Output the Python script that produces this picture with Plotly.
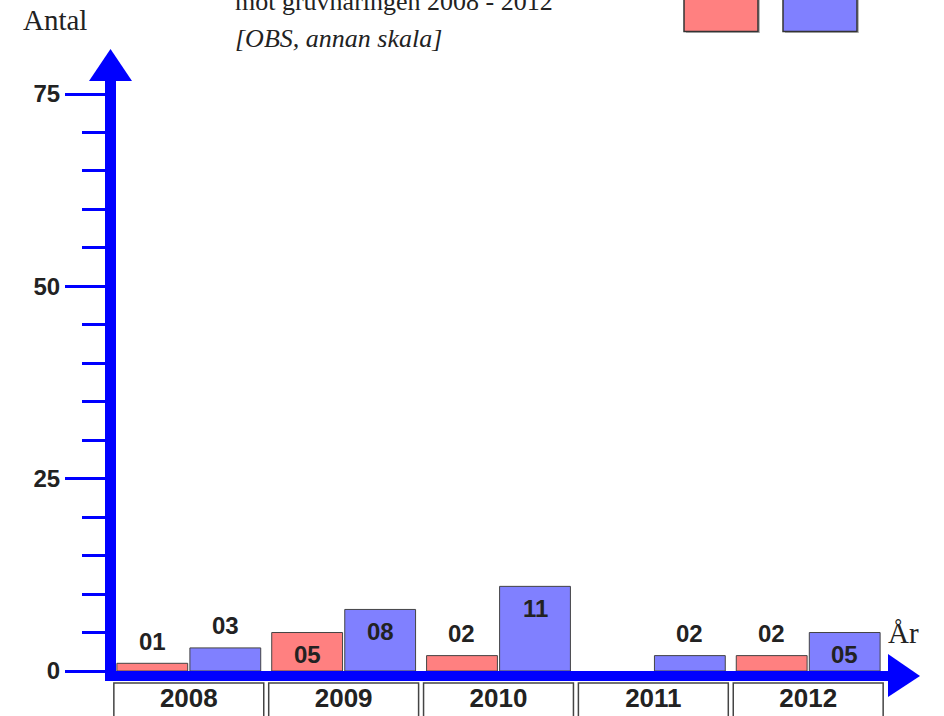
import plotly.graph_objects as go

# ---- data ----
years = ["2008", "2009", "2010", "2011", "2012"]
red_values = [1, 5, 2, 0, 2]
blue_values = [3, 8, 11, 2, 5]
red_label_pos = ["outside", "inside", "outside", None, "outside"]
blue_label_pos = ["outside", "inside", "inside", "outside", "inside"]
y_major_ticks = [0, 25, 50, 75]
y_minor_ticks = [v for v in range(0, 76, 5) if v % 25]

W, H = 944, 716
RED = "#FF8080"
BLUE = "#8080FF"
AXIS_BLUE = "#0000FF"
TXT = "#222222"
SANS = "Arial, Liberation Sans, sans-serif"
SERIF = "Times New Roman, Liberation Serif, serif"

BARGAP = 0.057


def px(x):
    return x / W


def py(y):
    return 1 - y / H


def outline_widths(vals):
    return [1 if v else 0 for v in vals]


fig = go.Figure()
fig.add_trace(go.Bar(x=years, y=red_values, name="röd",
                     marker=dict(color=RED, line=dict(color="#444444", width=outline_widths(red_values)))))
fig.add_trace(go.Bar(x=years, y=blue_values, name="blå",
                     marker=dict(color=BLUE, line=dict(color="#444444", width=outline_widths(blue_values)))))

shapes = []
# thick y axis line + arrow
shapes.append(dict(type="rect", xref="paper", yref="paper", x0=px(105), x1=px(116), y0=py(681), y1=py(80),
                   fillcolor=AXIS_BLUE, line=dict(width=0), layer="above"))
shapes.append(dict(type="path", xref="paper", yref="paper",
                   path=f"M {px(89)} {py(81)} L {px(110.5)} {py(49)} L {px(132)} {py(81)} Z",
                   fillcolor=AXIS_BLUE, line=dict(width=0), layer="above"))
# thick x axis line + arrow
shapes.append(dict(type="rect", xref="paper", yref="paper", x0=px(105), x1=px(889), y0=py(681), y1=py(671),
                   fillcolor=AXIS_BLUE, line=dict(width=0), layer="above"))
shapes.append(dict(type="path", xref="paper", yref="paper",
                   path=f"M {px(888)} {py(654)} L {px(920)} {py(676)} L {px(888)} {py(697)} Z",
                   fillcolor=AXIS_BLUE, line=dict(width=0), layer="above"))
# year boxes
for i, _ in enumerate(years):
    shapes.append(dict(type="rect", xref="x", yref="paper", x0=i - 0.484, x1=i + 0.484, y0=py(683), y1=py(730),
                       fillcolor="rgba(0,0,0,0)", line=dict(color="#444444", width=1.5)))
# legend swatches (cut at top)
for x0, col in [(684, RED), (783, BLUE)]:
    shapes.append(dict(type="rect", xref="paper", yref="paper", x0=px(x0 + 2), x1=px(x0 + 76), y0=py(33), y1=py(-5),
                       fillcolor="#BBBBBB", line=dict(width=0)))
    shapes.append(dict(type="rect", xref="paper", yref="paper", x0=px(x0), x1=px(x0 + 74), y0=py(31.5), y1=py(-5),
                       fillcolor=col, line=dict(color="#333333", width=1.5)))

annotations = []
half = (1 - BARGAP) / 4
for vals, pos, off in [(red_values, red_label_pos, -half), (blue_values, blue_label_pos, half)]:
    for i, (v, p) in enumerate(zip(vals, pos)):
        if p is None:
            continue
        annotations.append(dict(x=i + off, y=v, xref="x", yref="y", text=f"{v:02d}", showarrow=False,
                                yanchor="middle", yshift=22 if p == "outside" else -22,
                                font=dict(family=SANS, size=24, color=TXT, weight="bold")))

annotations += [
    dict(x=px(21), y=py(19.5), xref="paper", yref="paper", text="Antal", showarrow=False, xanchor="left",
         yanchor="middle", font=dict(family=SERIF, size=29, color=TXT)),
    dict(x=px(233), y=py(1.5), xref="paper", yref="paper", text="mot gruvnäringen 2008 - 2012", showarrow=False,
         xanchor="left", yanchor="middle", font=dict(family=SERIF, size=26, color=TXT)),
    dict(x=px(233), y=py(38.5), xref="paper", yref="paper", text="<i>[OBS, annan skala]</i>", showarrow=False,
         xanchor="left", yanchor="middle", font=dict(family=SERIF, size=26, color=TXT)),
    dict(x=px(886), y=py(633), xref="paper", yref="paper", text="År", showarrow=False,
         xanchor="left", yanchor="middle", font=dict(family=SERIF, size=29, color=TXT)),
]

y_per_px = 75 / (671 - 94)
fig.update_layout(
    width=W, height=H,
    margin=dict(l=0, r=0, t=0, b=0),
    paper_bgcolor="white", plot_bgcolor="white",
    barmode="group", bargap=BARGAP, bargroupgap=0.03,
    showlegend=False,
    shapes=shapes,
    annotations=annotations,
    xaxis=dict(type="category", range=[-188.8 / 154.85, (W - 188.8) / 154.85], domain=[0, 1],
               showgrid=False, zeroline=False, showline=False, ticks="",
               anchor="free", position=py(680),
               tickfont=dict(family=SANS, size=26, color=TXT, weight="bold")),
    yaxis=dict(range=[-(H - 671) * y_per_px, 671 * y_per_px], domain=[0, 1],
               tickvals=y_major_ticks, showgrid=False, zeroline=False, showline=False,
               anchor="free", position=px(105),
               ticks="outside", ticklen=40, tickwidth=2.5, tickcolor=AXIS_BLUE,
               minor=dict(tickvals=y_minor_ticks, ticks="outside", ticklen=23, tickwidth=2.5,
                          tickcolor=AXIS_BLUE, showgrid=False),
               tickfont=dict(family=SANS, size=24, color=TXT, weight="bold")),
)

fig.write_html("out.html", config={"displayModeBar": False},
               post_script="document.body.style.margin='0';document.body.style.overflow='hidden';")
